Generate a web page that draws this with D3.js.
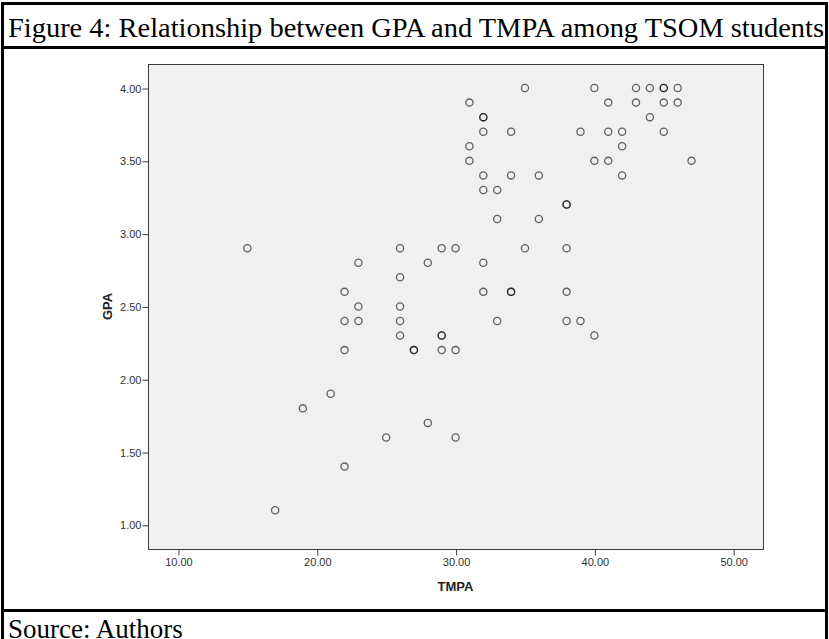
<!DOCTYPE html>
<html>
<head>
<meta charset="utf-8">
<script src="https://cdn.jsdelivr.net/npm/d3@7.9.0/dist/d3.min.js"></script>
<style>
  body { margin: 0; background: #fff; }
  svg { display: block; }
</style>
</head>
<body>
<svg id="chart" width="829" height="639"></svg>
<script>
// TMPA score for each student (duplicates listed twice)
const tmpa = [
  35, 40, 43, 44, 45, 45, 46,
  31, 41, 43, 45, 46,
  32, 32, 44,
  32, 34, 39, 41, 42, 45,
  31, 42,
  31, 40, 41, 47,
  32, 34, 36, 42,
  32, 33,
  38, 38,
  33, 36,
  15, 26, 29, 30, 35, 38,
  23, 28, 32,
  26,
  22, 32, 34, 34, 38,
  23, 26,
  22, 23, 26, 33, 38, 39,
  26, 29, 29, 40,
  22, 27, 27, 29, 30,
  21, 19, 28, 25, 30, 22, 17
];
// GPA for the same students
const gpa = [
  4.0, 4.0, 4.0, 4.0, 4.0, 4.0, 4.0,
  3.9, 3.9, 3.9, 3.9, 3.9,
  3.8, 3.8, 3.8,
  3.7, 3.7, 3.7, 3.7, 3.7, 3.7,
  3.6, 3.6,
  3.5, 3.5, 3.5, 3.5,
  3.4, 3.4, 3.4, 3.4,
  3.3, 3.3,
  3.2, 3.2,
  3.1, 3.1,
  2.9, 2.9, 2.9, 2.9, 2.9, 2.9,
  2.8, 2.8, 2.8,
  2.7,
  2.6, 2.6, 2.6, 2.6, 2.6,
  2.5, 2.5,
  2.4, 2.4, 2.4, 2.4, 2.4, 2.4,
  2.3, 2.3, 2.3, 2.3,
  2.2, 2.2, 2.2, 2.2, 2.2,
  1.9, 1.8, 1.7, 1.6, 1.6, 1.4, 1.1
];
const xTicks = [10, 20, 30, 40, 50];
const yTicks = [1.0, 1.5, 2.0, 2.5, 3.0, 3.5, 4.0];

const points = tmpa.map((t, i) => ({ t, g: gpa[i] }));

const svg = d3.select('#chart');
const serif = 'Liberation Serif, Times New Roman, serif';
const sans = 'Liberation Sans, Arial, sans-serif';

/* ---- outer figure frame ---- */
svg.append('rect')
  .attr('x', 2.5).attr('y', 3.5)
  .attr('width', 824).attr('height', 700)
  .attr('fill', 'none').attr('stroke', '#000').attr('stroke-width', 3);

svg.append('text')
  .attr('x', 8).attr('y', 37)
  .attr('font-family', serif)
  .attr('font-size', 28)
  .attr('textLength', 816)
  .attr('lengthAdjust', 'spacingAndGlyphs')
  .text('Figure 4: Relationship between GPA and TMPA among TSOM students');

svg.append('line')
  .attr('x1', 2).attr('x2', 827).attr('y1', 47.5).attr('y2', 47.5)
  .attr('stroke', '#000').attr('stroke-width', 3);

svg.append('line')
  .attr('x1', 2).attr('x2', 827).attr('y1', 610.5).attr('y2', 610.5)
  .attr('stroke', '#000').attr('stroke-width', 3);

svg.append('text')
  .attr('x', 8).attr('y', 638)
  .attr('font-family', serif)
  .attr('font-size', 27)
  .text('Source: Authors');

/* ---- plot area ---- */
const plot = { left: 148, right: 763, top: 64, bottom: 549 };

const x = d3.scaleLinear()
  .domain([7.84, 52.15])
  .range([plot.left, plot.right]);

const y = d3.scaleLinear()
  .domain([0.834, 4.165])
  .range([plot.bottom, plot.top]);

svg.append('rect')
  .attr('x', plot.left + 0.5).attr('y', plot.top + 0.5)
  .attr('width', plot.right - plot.left).attr('height', plot.bottom - plot.top)
  .attr('fill', '#f0f0f0').attr('stroke', '#3c3c3c').attr('stroke-width', 1);

const xAxis = svg.append('g')
  .attr('transform', `translate(0.5, ${plot.bottom + 0.5})`)
  .call(d3.axisBottom(x).tickValues(xTicks).tickFormat(d3.format('.2f'))
    .tickSize(6).tickSizeOuter(0));

const yAxis = svg.append('g')
  .attr('transform', `translate(${plot.left + 0.5}, 0.5)`)
  .call(d3.axisLeft(y).tickValues(yTicks).tickFormat(d3.format('.2f'))
    .tickSize(6).tickSizeOuter(0));

[xAxis, yAxis].forEach((g) => {
  g.select('.domain').remove();
  g.selectAll('.tick line').attr('stroke', '#3c3c3c');
  g.selectAll('.tick text')
    .attr('fill', '#333')
    .attr('font-family', sans)
    .attr('font-size', 11);
});
yAxis.selectAll('.tick text').attr('x', -7);

svg.append('text')
  .attr('x', (plot.left + plot.right) / 2).attr('y', 591)
  .attr('text-anchor', 'middle')
  .attr('font-family', sans)
  .attr('font-size', 13).attr('font-weight', 'bold')
  .attr('fill', '#222')
  .text('TMPA');

svg.append('text')
  .attr('transform', `translate(112, ${(plot.top + plot.bottom) / 2}) rotate(-90)`)
  .attr('text-anchor', 'middle')
  .attr('font-family', sans)
  .attr('font-size', 13).attr('font-weight', 'bold')
  .attr('fill', '#222')
  .text('GPA');

/* ---- points ---- */
svg.append('g')
  .selectAll('circle')
  .data(points)
  .join('circle')
  .attr('cx', (d) => x(d.t))
  .attr('cy', (d) => y(d.g))
  .attr('r', 3.6)
  .attr('fill', 'none')
  .attr('stroke', '#000')
  .attr('stroke-opacity', 0.6)
  .attr('stroke-width', 1.3);
</script>
</body>
</html>
